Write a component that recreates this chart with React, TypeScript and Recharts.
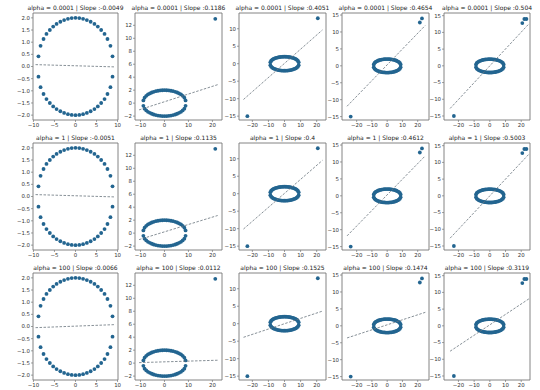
import { ScatterChart, Scatter, XAxis, YAxis, ReferenceArea } from "recharts"

// ring of points shared by every panel
const ringTop: [number, number][] = [
  [-8.8, 0.42], [-8.3, 0.85], [-7.6, 1.13], [-6.9, 1.34], [-6.1, 1.5], [-5.3, 1.64],
  [-4.5, 1.75], [-3.6, 1.84], [-2.7, 1.91], [-1.8, 1.96], [-0.9, 1.99], [0, 2.0],
  [0.9, 1.99], [1.8, 1.96], [2.7, 1.91], [3.6, 1.84], [4.5, 1.75], [5.3, 1.64],
  [6.1, 1.5], [6.9, 1.34], [7.6, 1.13], [8.3, 0.85], [8.8, 0.42],
]
const ringBottom: [number, number][] = [
  [-8.8, -0.42], [-8.3, -0.85], [-7.6, -1.13], [-6.9, -1.34], [-6.1, -1.5], [-5.3, -1.64],
  [-4.5, -1.75], [-3.6, -1.84], [-2.7, -1.91], [-1.8, -1.96], [-0.9, -1.99], [0, -2.0],
  [0.9, -1.99], [1.8, -1.96], [2.7, -1.91], [3.6, -1.84], [4.5, -1.75], [5.3, -1.64],
  [6.1, -1.5], [6.9, -1.34], [7.6, -1.13], [8.3, -0.85], [8.8, -0.42],
]

// extra points added in each column
const outliers: [number, number][][] = [
  [],
  [[21.2, 13]],
  [[20.7, 13], [-23.1, -15]],
  [[21.4, 12.8], [22.8, 14], [-23.9, -15]],
  [[20.7, 12.8], [22, 14], [23.3, 14], [-22.9, -15]],
]

const alphas = ["0.0001", "1", "100"]
const slopes = [
  ["-0.0049", "0.1186", "0.4051", "0.4654", "0.504"],
  ["-0.0051", "0.1135", "0.4", "0.4612", "0.5003"],
  ["0.0066", "0.0112", "0.1525", "0.1474", "0.3119"],
]

// fitted line end points, per column (x) and per row/column (y)
const fitX = [[-9.5, 9.5], [-10.6, 22.2], [-25.5, 23.6], [-26.3, 25], [-25.3, 25]]
const fitY = [
  [[0.077, -0.017], [-1.04, 2.85], [-10.23, 9.66], [-11.94, 11.94], [-12.75, 12.6]],
  [[0.078, -0.018], [-1.0, 2.72], [-10.1, 9.54], [-11.83, 11.83], [-12.66, 12.51]],
  [[-0.048, 0.078], [0.081, 0.449], [-3.89, 3.6], [-3.58, 3.99], [-7.59, 8.1]],
]

const xDomains = [[-10.1, 10.1], [-12.3, 24], [-28.3, 25.8], [-29.6, 27.4], [-29.2, 25.6]]
const yDomains = [[-2.2, 2.2], [-2.6, 13.9], [-16.1, 14.5], [-16, 15.6], [-16.2, 15.8]]
const xTicks = [
  [-10, -5, 0, 5, 10],
  [-10, 0, 10, 20],
  [-20, -10, 0, 10, 20],
  [-20, -10, 0, 10, 20],
  [-20, -10, 0, 10, 20],
]
const yTicks = [
  [-2, -1.5, -1, -0.5, 0, 0.5, 1, 1.5, 2],
  [-2, 0, 2, 4, 6, 8, 10, 12],
  [-15, -10, -5, 0, 5, 10],
  [-15, -10, -5, 0, 5, 10, 15],
  [-15, -10, -5, 0, 5, 10, 15],
]

const plotLeft = [33, 135, 239, 342, 444]
const plotWidth = [85, 87, 87, 87, 86]
const plotTop = [13, 143, 273]
const plotHeight = 107

const dotColor = "#236590"
const lineColor = "#68737c"
const axisColor = "#777"
const textColor = "#333"
const font = "DejaVu Sans"

const YW = 26
const MT = 8
const XH = 14

function fmt(v: number, oneDecimal: boolean) {
  const s = oneDecimal ? v.toFixed(1) : String(v)
  return s.replace("-", "\u2212")
}

function Panel({ row, col }: { row: number; col: number }) {
  const pw = plotWidth[col]
  const points = [...ringTop, ...ringBottom, ...outliers[col]].map(([x, y]) => ({ x, y }))
  const fit = fitX[col].map((x, i) => ({ x, y: fitY[row][col][i] }))
  const xd = xDomains[col]
  const yd = yDomains[col]
  const tickStyle = { fontSize: 5.4, fill: textColor, fontFamily: font }
  return (
    <>
      <div
        style={{
          position: "absolute",
          left: plotLeft[col] - 10,
          width: pw + 20,
          top: plotTop[row] - 9,
          fontSize: 6,
          lineHeight: "7px",
          fontFamily: font,
          color: "#222",
          textAlign: "center",
          whiteSpace: "nowrap",
        }}
      >
        {`alpha = ${alphas[row]} | Slope :${slopes[row][col]}`}
      </div>
      <div style={{ position: "absolute", left: plotLeft[col] - YW, top: plotTop[row] - MT }}>
        <ScatterChart
          width={YW + pw + 4}
          height={MT + plotHeight + XH}
          margin={{ top: MT, right: 4, bottom: 0, left: 0 }}
        >
          <XAxis
            type="number"
            dataKey="x"
            domain={xd}
            ticks={xTicks[col]}
            interval={0}
            allowDataOverflow
            height={XH}
            tickSize={2}
            tickMargin={1}
            axisLine={false}
            tickLine={{ stroke: axisColor, strokeWidth: 0.7 }}
            tick={tickStyle}
            tickFormatter={(v: number) => fmt(v, false)}
          />
          <YAxis
            type="number"
            dataKey="y"
            domain={yd}
            ticks={yTicks[col]}
            interval={0}
            allowDataOverflow
            width={YW}
            tickSize={2}
            tickMargin={1}
            axisLine={false}
            tickLine={{ stroke: axisColor, strokeWidth: 0.7 }}
            tick={tickStyle}
            tickFormatter={(v: number) => fmt(v, col === 0)}
          />
          <Scatter
            data={points}
            isAnimationActive={false}
            shape={(p: any) => <circle cx={p.cx} cy={p.cy} r={1.9} fill={dotColor} />}
          />
          <Scatter
            data={fit}
            isAnimationActive={false}
            line={{ stroke: lineColor, strokeWidth: 0.8, strokeDasharray: "2.5 1.5" }}
            shape={() => <g />}
          />
          <ReferenceArea
            x1={xd[0]}
            x2={xd[1]}
            y1={yd[0]}
            y2={yd[1]}
            fill="none"
            stroke={axisColor}
            strokeWidth={0.9}
            ifOverflow="visible"
          />
        </ScatterChart>
      </div>
    </>
  )
}

export default function App() {
  return (
    <div
      style={{
        position: "absolute",
        left: 0,
        top: 0,
        width: 540,
        height: 390,
        background: "#fff",
        overflow: "hidden",
      }}
    >
      {[0, 1, 2].map((row) =>
        [0, 1, 2, 3, 4].map((col) => <Panel key={`${row}-${col}`} row={row} col={col} />)
      )}
    </div>
  )
}
